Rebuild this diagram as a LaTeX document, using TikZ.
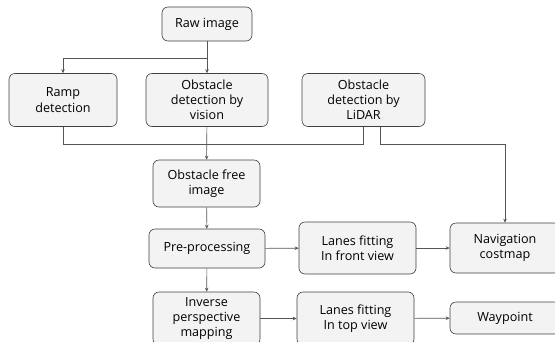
\documentclass[tikz,border=0pt]{standalone}
\usepackage{fontspec}
\setmainfont{Open Sans}
\usetikzlibrary{arrows.meta}
\definecolor{boxfill}{HTML}{F3F3F3}
\definecolor{boxline}{HTML}{404040}
\definecolor{wire}{HTML}{555555}
\begin{document}
\begin{tikzpicture}[
	x=1pt, y=-1pt,
	box/.style={
		draw=boxline, fill=boxfill, rectangle, rounded corners=6pt, semithick,
		font=\fontsize{12.6}{15.2}\selectfont, align=center, inner sep=0pt
	},
	arr/.style={-{Stealth[length=4pt,width=3.5pt]}, wire, semithick},
	wire/.style={draw=wire, semithick},
	]
	\useasboundingbox (0,0) rectangle (555,341);
	\clip (0,0) rectangle (555,341);
	\node[box, minimum width=90pt, minimum height=34pt]  (raw)      at (207,24)  {Raw image};
	\node[box, minimum width=108pt, minimum height=53pt] (ramp)     at (63,100)  {Ramp\\detection};
	\node[box, minimum width=122pt, minimum height=53pt] (vision)   at (207,100) {Obstacle\\detection by\\vision};
	\node[box, minimum width=123pt, minimum height=53pt] (lidar)    at (363.5,100) {Obstacle\\detection by\\LiDAR};
	\node[box, minimum width=107pt, minimum height=47pt] (free)     at (206.5,183.5) {Obstacle free\\image};
	\node[box, minimum width=116pt, minimum height=39pt] (pre)      at (207,248.5) {Pre-processing};
	\node[box, minimum width=107pt, minimum height=53pt] (ipm)      at (206.5,318.5) {Inverse\\perspective\\mapping};
	\node[box, minimum width=117pt, minimum height=52pt] (front)    at (357.5,248) {Lanes fitting\\In front view};
	\node[box, minimum width=117pt, minimum height=53pt] (top)      at (355.5,318.5) {Lanes fitting\\In top view};
	\node[box, minimum width=110pt, minimum height=50pt] (costmap)  at (505,248) {Navigation\\costmap};
	\node[box, minimum width=110pt, minimum height=32pt] (waypoint) at (505,318) {Waypoint};
	\coordinate (split) at (207,58);
	\coordinate (join) at (63,144);
	\draw[arr] (raw) -- (vision);
	\draw[arr] (split) -| (ramp);
	\draw[wire] (ramp) |- (join) -| (lidar.south);
	\draw[arr] (vision) -- (free);
	\draw[arr] ([xshift=16.5pt]lidar.south) |- (costmap.north |- join) -- (costmap);
	\draw[arr] (free) -- (pre);
	\draw[arr] (pre) -- (ipm);
	\draw[arr] (pre) -- (front);
	\draw[arr] (front) -- (costmap);
	\draw[arr] (ipm.east |- top) -- (top);
	\draw[arr] (top) -- (waypoint);
\end{tikzpicture}
\end{document}
